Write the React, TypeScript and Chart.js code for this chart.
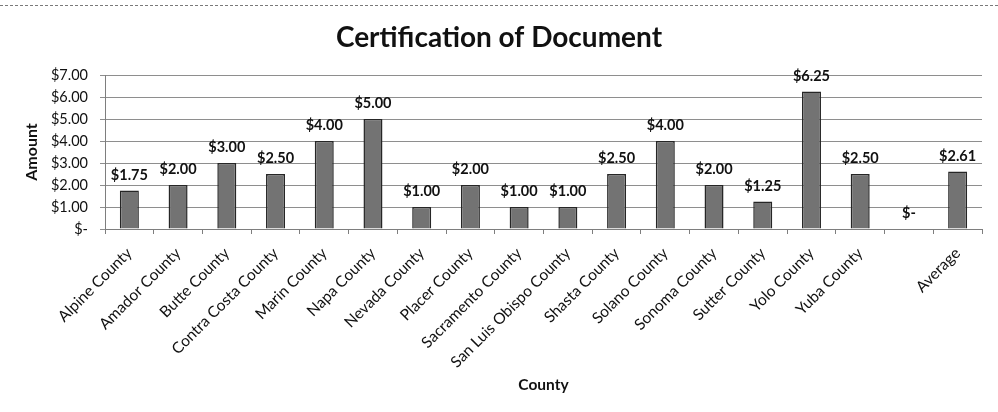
import React, { useEffect, useRef } from "react";
import { Chart, registerables } from "chart.js";

Chart.register(...registerables);

const chartTitle = "Certification of Document";
const categories = [
  "Alpine County",
  "Amador County",
  "Butte County",
  "Contra Costa County",
  "Marin County",
  "Napa County",
  "Nevada County",
  "Placer County",
  "Sacramento County",
  "San Luis Obispo County",
  "Shasta County",
  "Solano County",
  "Sonoma County",
  "Sutter County",
  "Yolo County",
  "Yuba County",
  "",
  "Average",
];
const amounts = [1.75, 2.0, 3.0, 2.5, 4.0, 5.0, 1.0, 2.0, 1.0, 1.0, 2.5, 4.0, 2.0, 1.25, 6.25, 2.5, 0, 2.61];
const yTickValues = [0, 1, 2, 3, 4, 5, 6, 7];
const yAxisTitle = "Amount";
const xAxisTitle = "County";

const FONT = "Lato, 'Liberation Sans', sans-serif";
const TEXT = "#111111";

const fmt = (v: number) => (v === 0 ? "$-" : "$" + v.toFixed(2));

const titlePlugin = {
  id: "customTitle",
  afterDraw(chart: any) {
    const ctx = chart.ctx;
    ctx.save();
    ctx.font = `bold 28px ${FONT}`;
    ctx.fillStyle = TEXT;
    ctx.textAlign = "center";
    ctx.textBaseline = "middle";
    ctx.fillText(chartTitle, chart.width / 2, 38);
    ctx.restore();
  },
};

const labelPlugin = {
  id: "barLabels",
  afterDatasetsDraw(chart: any) {
    const ctx = chart.ctx;
    const meta = chart.getDatasetMeta(0);
    const data = chart.data.datasets[0].data as number[];
    ctx.save();
    ctx.font = `bold 14.5px ${FONT}`;
    ctx.fillStyle = TEXT;
    ctx.textAlign = "center";
    ctx.textBaseline = "bottom";
    meta.data.forEach((bar: any, i: number) => {
      ctx.fillText(fmt(data[i]), bar.x, bar.y - 8);
    });
    ctx.restore();
  },
};

const bgPlugin = {
  id: "bg",
  beforeDraw(chart: any) {
    const ctx = chart.ctx;
    ctx.save();
    ctx.fillStyle = "#ffffff";
    ctx.fillRect(0, 0, chart.width, chart.height);
    ctx.strokeStyle = "#7a7a7a";
    ctx.lineWidth = 1;
    ctx.setLineDash([3, 2]);
    ctx.beginPath();
    ctx.moveTo(0, 5.5);
    ctx.lineTo(chart.width, 5.5);
    ctx.stroke();
    ctx.restore();
  },
};

export default function App() {
  const ref = useRef<HTMLCanvasElement | null>(null);

  useEffect(() => {
    if (!ref.current) return;
    const chart = new Chart(ref.current, {
      type: "bar",
      data: {
        labels: categories,
        datasets: [
          {
            data: amounts,
            backgroundColor: "#737373",
            borderColor: "#262626",
            borderWidth: 1.5,
            barPercentage: 0.39,
            categoryPercentage: 1,
          },
        ],
      },
      options: {
        responsive: false,
        animation: false,
        layout: { padding: { top: 75, left: 18, right: 16, bottom: 14 } },
        plugins: {
          legend: { display: false },
          title: { display: false },
          tooltip: { enabled: false },
        },
        scales: {
          x: {
            offset: true,
            grid: {
              display: true,
              offset: true,
              drawOnChartArea: false,
              tickLength: 5,
              color: "#7e7e7e",
            },
            border: { color: "#7e7e7e" },
            ticks: {
              autoSkip: false,
              maxRotation: 45,
              minRotation: 45,
              color: TEXT,
              font: { family: FONT, size: 15.5 },
              padding: 10,
            },
            title: {
              display: true,
              text: xAxisTitle,
              color: TEXT,
              font: { family: FONT, size: 15.5, weight: "bold" },
            },
            afterFit(scale: any) {
              scale.height = 412 - 229 - 14;
            },
          },
          y: {
            min: 0,
            max: 7,
            afterBuildTicks(scale: any) {
              scale.ticks = yTickValues.map((v) => ({ value: v }));
            },
            grid: {
              color: "#8e8e8e",
              tickLength: 5,
            },
            border: { color: "#7e7e7e" },
            ticks: {
              color: TEXT,
              font: { family: FONT, size: 14.5 },
              padding: 12,
              callback: (v: any) => fmt(Number(v)),
            },
            title: {
              display: true,
              text: yAxisTitle,
              color: TEXT,
              font: { family: FONT, size: 16, weight: "bold" },
            },
            afterFit(scale: any) {
              scale.width = 105 - 18;
            },
          },
        },
      },
      plugins: [bgPlugin, titlePlugin, labelPlugin],
    });
    return () => chart.destroy();
  }, []);

  return (
    <div style={{ position: "fixed", left: 0, top: 0, width: 998, height: 412, background: "#fff" }}>
      <canvas ref={ref} width={998} height={412} style={{ display: "block" }} />
    </div>
  );
}
